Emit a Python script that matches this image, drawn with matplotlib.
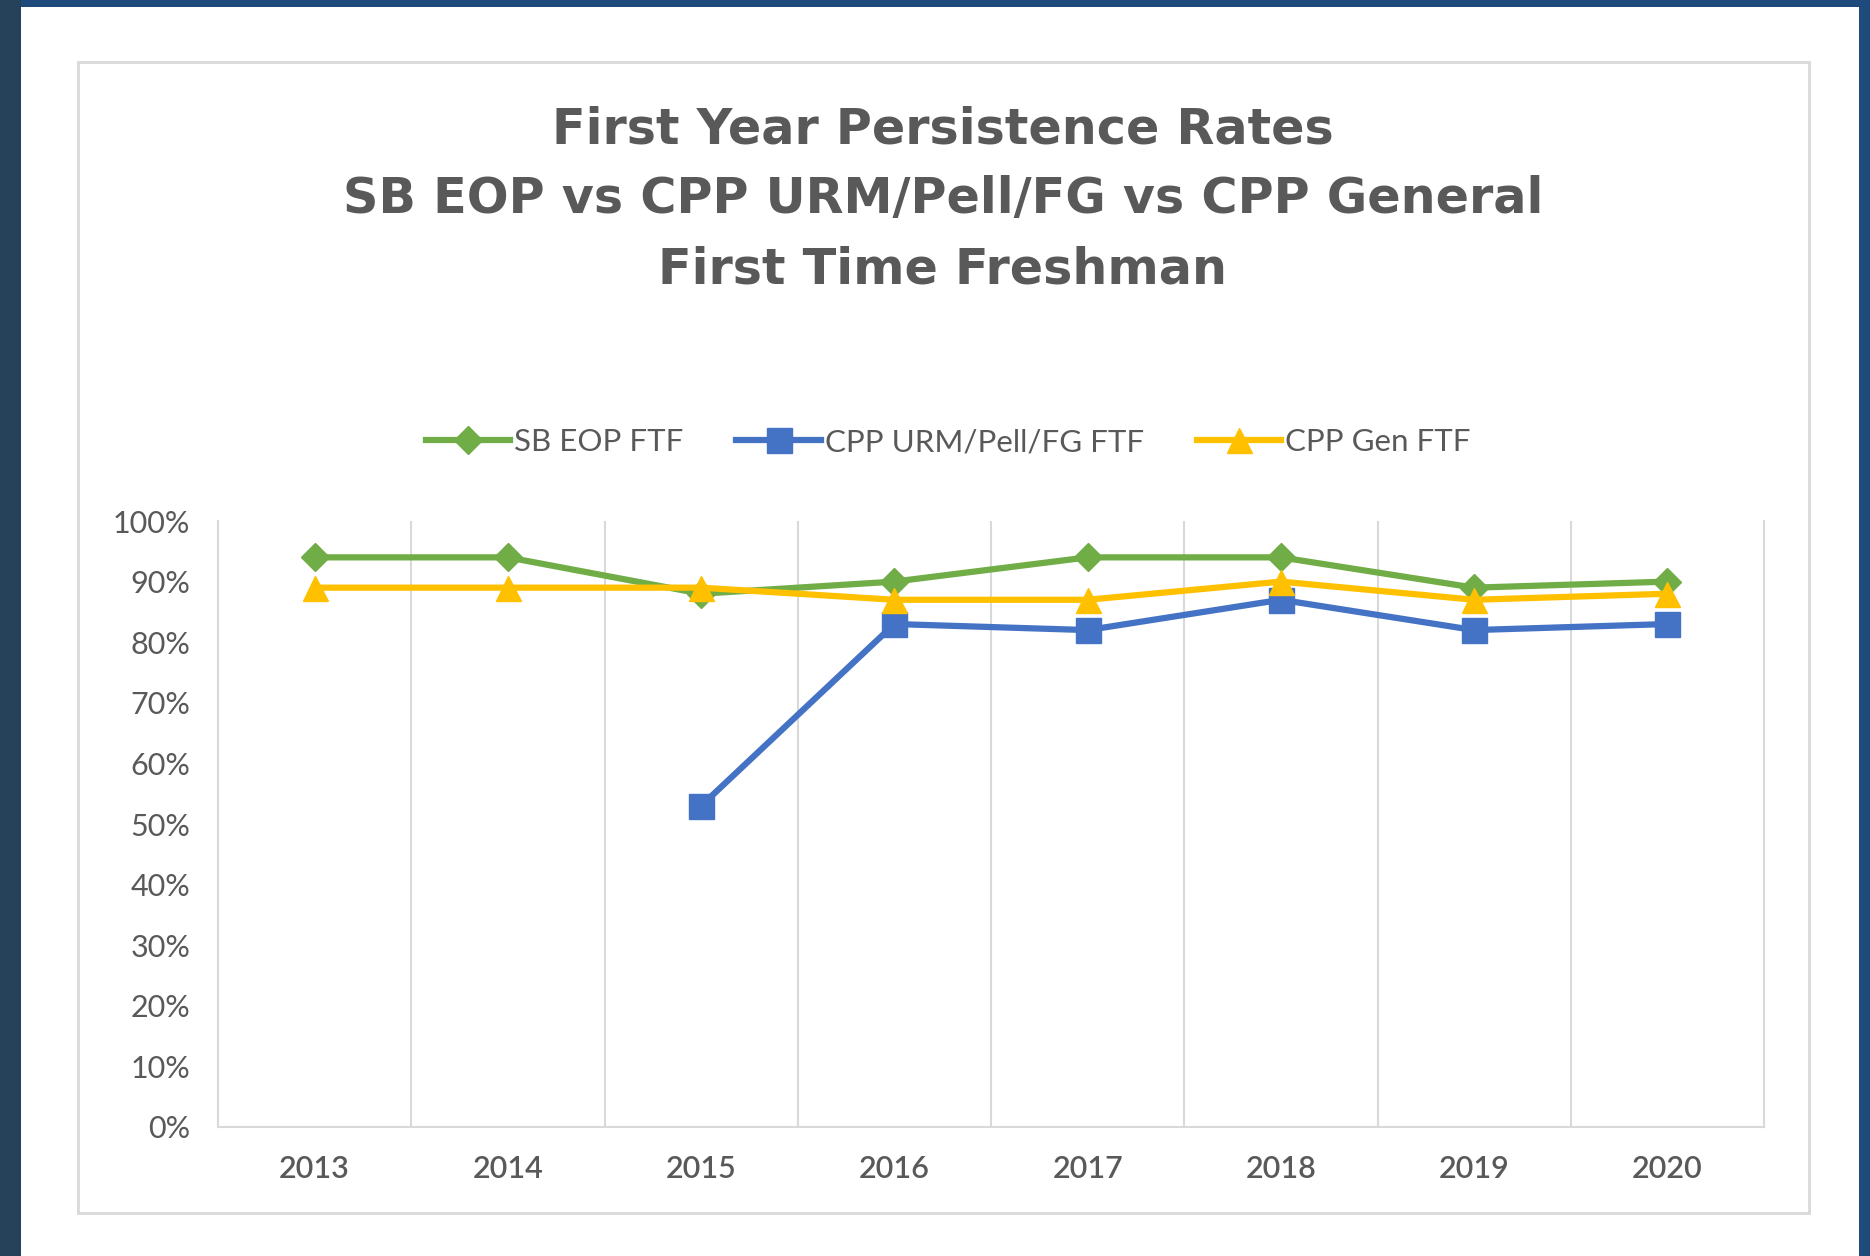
import numpy as np
import matplotlib.pyplot as plt
from matplotlib.patches import Rectangle

# データ
years = ['2013', '2014', '2015', '2016', '2017', '2018', '2019', '2020']
sb_eop_ftf = [94, 94, 88, 90, 94, 94, 89, 90]
cpp_urm_ftf = [np.nan, np.nan, 53, 83, 82, 87, 82, 83]
cpp_gen_ftf = [89, 89, 89, 87, 87, 90, 87, 88]
y_ticks = list(range(0, 101, 10))

W, H = 1870, 1256
text_gray = '#595959'
grid_gray = '#d9d9d9'

fig = plt.figure(figsize=(W / 100, H / 100), dpi=100)
fig.patch.set_facecolor('white')


def px_rect(x0, y0, x1, y1, **kw):
    # ピクセル座標(左上原点)で矩形を描く
    r = Rectangle((x0 / W, 1 - y1 / H), (x1 - x0) / W, (y1 - y0) / H,
                  transform=fig.transFigure, **kw)
    fig.add_artist(r)


# 外枠の帯
px_rect(0, 0, W, 7, facecolor='#1f4a7c', edgecolor='none')
px_rect(0, 0, 21, H, facecolor='#25425a', edgecolor='none')
px_rect(1859, 0, W, H, facecolor='#1f4a7c', edgecolor='none')
# チャートの枠
px_rect(78, 62, 1809, 1213, facecolor='none', edgecolor=grid_gray, linewidth=2)

# タイトル
title_lines = ['First Year Persistence Rates',
               'SB EOP vs CPP URM/Pell/FG vs CPP General',
               'First Time Freshman']
for i, line in enumerate(title_lines):
    fig.text(943 / W, 1 - (129 + 70.5 * i) / H, line, ha='center', va='center',
             fontsize=35.5, fontweight='bold', color=text_gray, family='DejaVu Sans')

ax = fig.add_axes([218 / W, 1 - 1127 / H, (1764 - 218) / W, (1127 - 521) / H])
x = np.arange(len(years))

ax.plot(x, sb_eop_ftf, color='#70AD47', lw=4.5, marker='D', ms=14, label='SB EOP FTF')
ax.plot(x, cpp_urm_ftf, color='#4472C4', lw=4.5, marker='s', ms=18, label='CPP URM/Pell/FG FTF')
ax.plot(x, cpp_gen_ftf, color='#FFC000', lw=4.5, marker='^', ms=18, label='CPP Gen FTF')

ax.set_xlim(-0.5, len(years) - 0.5)
ax.set_ylim(0, 100)
ax.set_xticks(x)
ax.set_xticklabels(years, family='Lato', fontsize=22, color=text_gray, fontweight='semibold')
ax.set_yticks(y_ticks)
ax.set_yticklabels([f'{v}%' for v in y_ticks], family='Lato', fontsize=22, color=text_gray)
ax.set_xticks(np.arange(0.5, len(years) - 1, 1), minor=True)
ax.grid(axis='x', which='minor', color=grid_gray, lw=1.5)
ax.tick_params(which='both', length=0)
ax.tick_params(axis='x', pad=20)
ax.tick_params(axis='y', pad=20)
ax.spines['top'].set_visible(False)
for s in ['left', 'right', 'bottom']:
    ax.spines[s].set_color(grid_gray)
    ax.spines[s].set_linewidth(1.5)

fig.legend(loc='center', bbox_to_anchor=(0.507, 0.648), ncol=3, frameon=False,
           prop={'family': 'Lato', 'size': 22.5}, labelcolor=text_gray,
           handlelength=2.7, handletextpad=0.12, columnspacing=1.7)

fig.savefig('out.png', dpi=100, facecolor='white')
